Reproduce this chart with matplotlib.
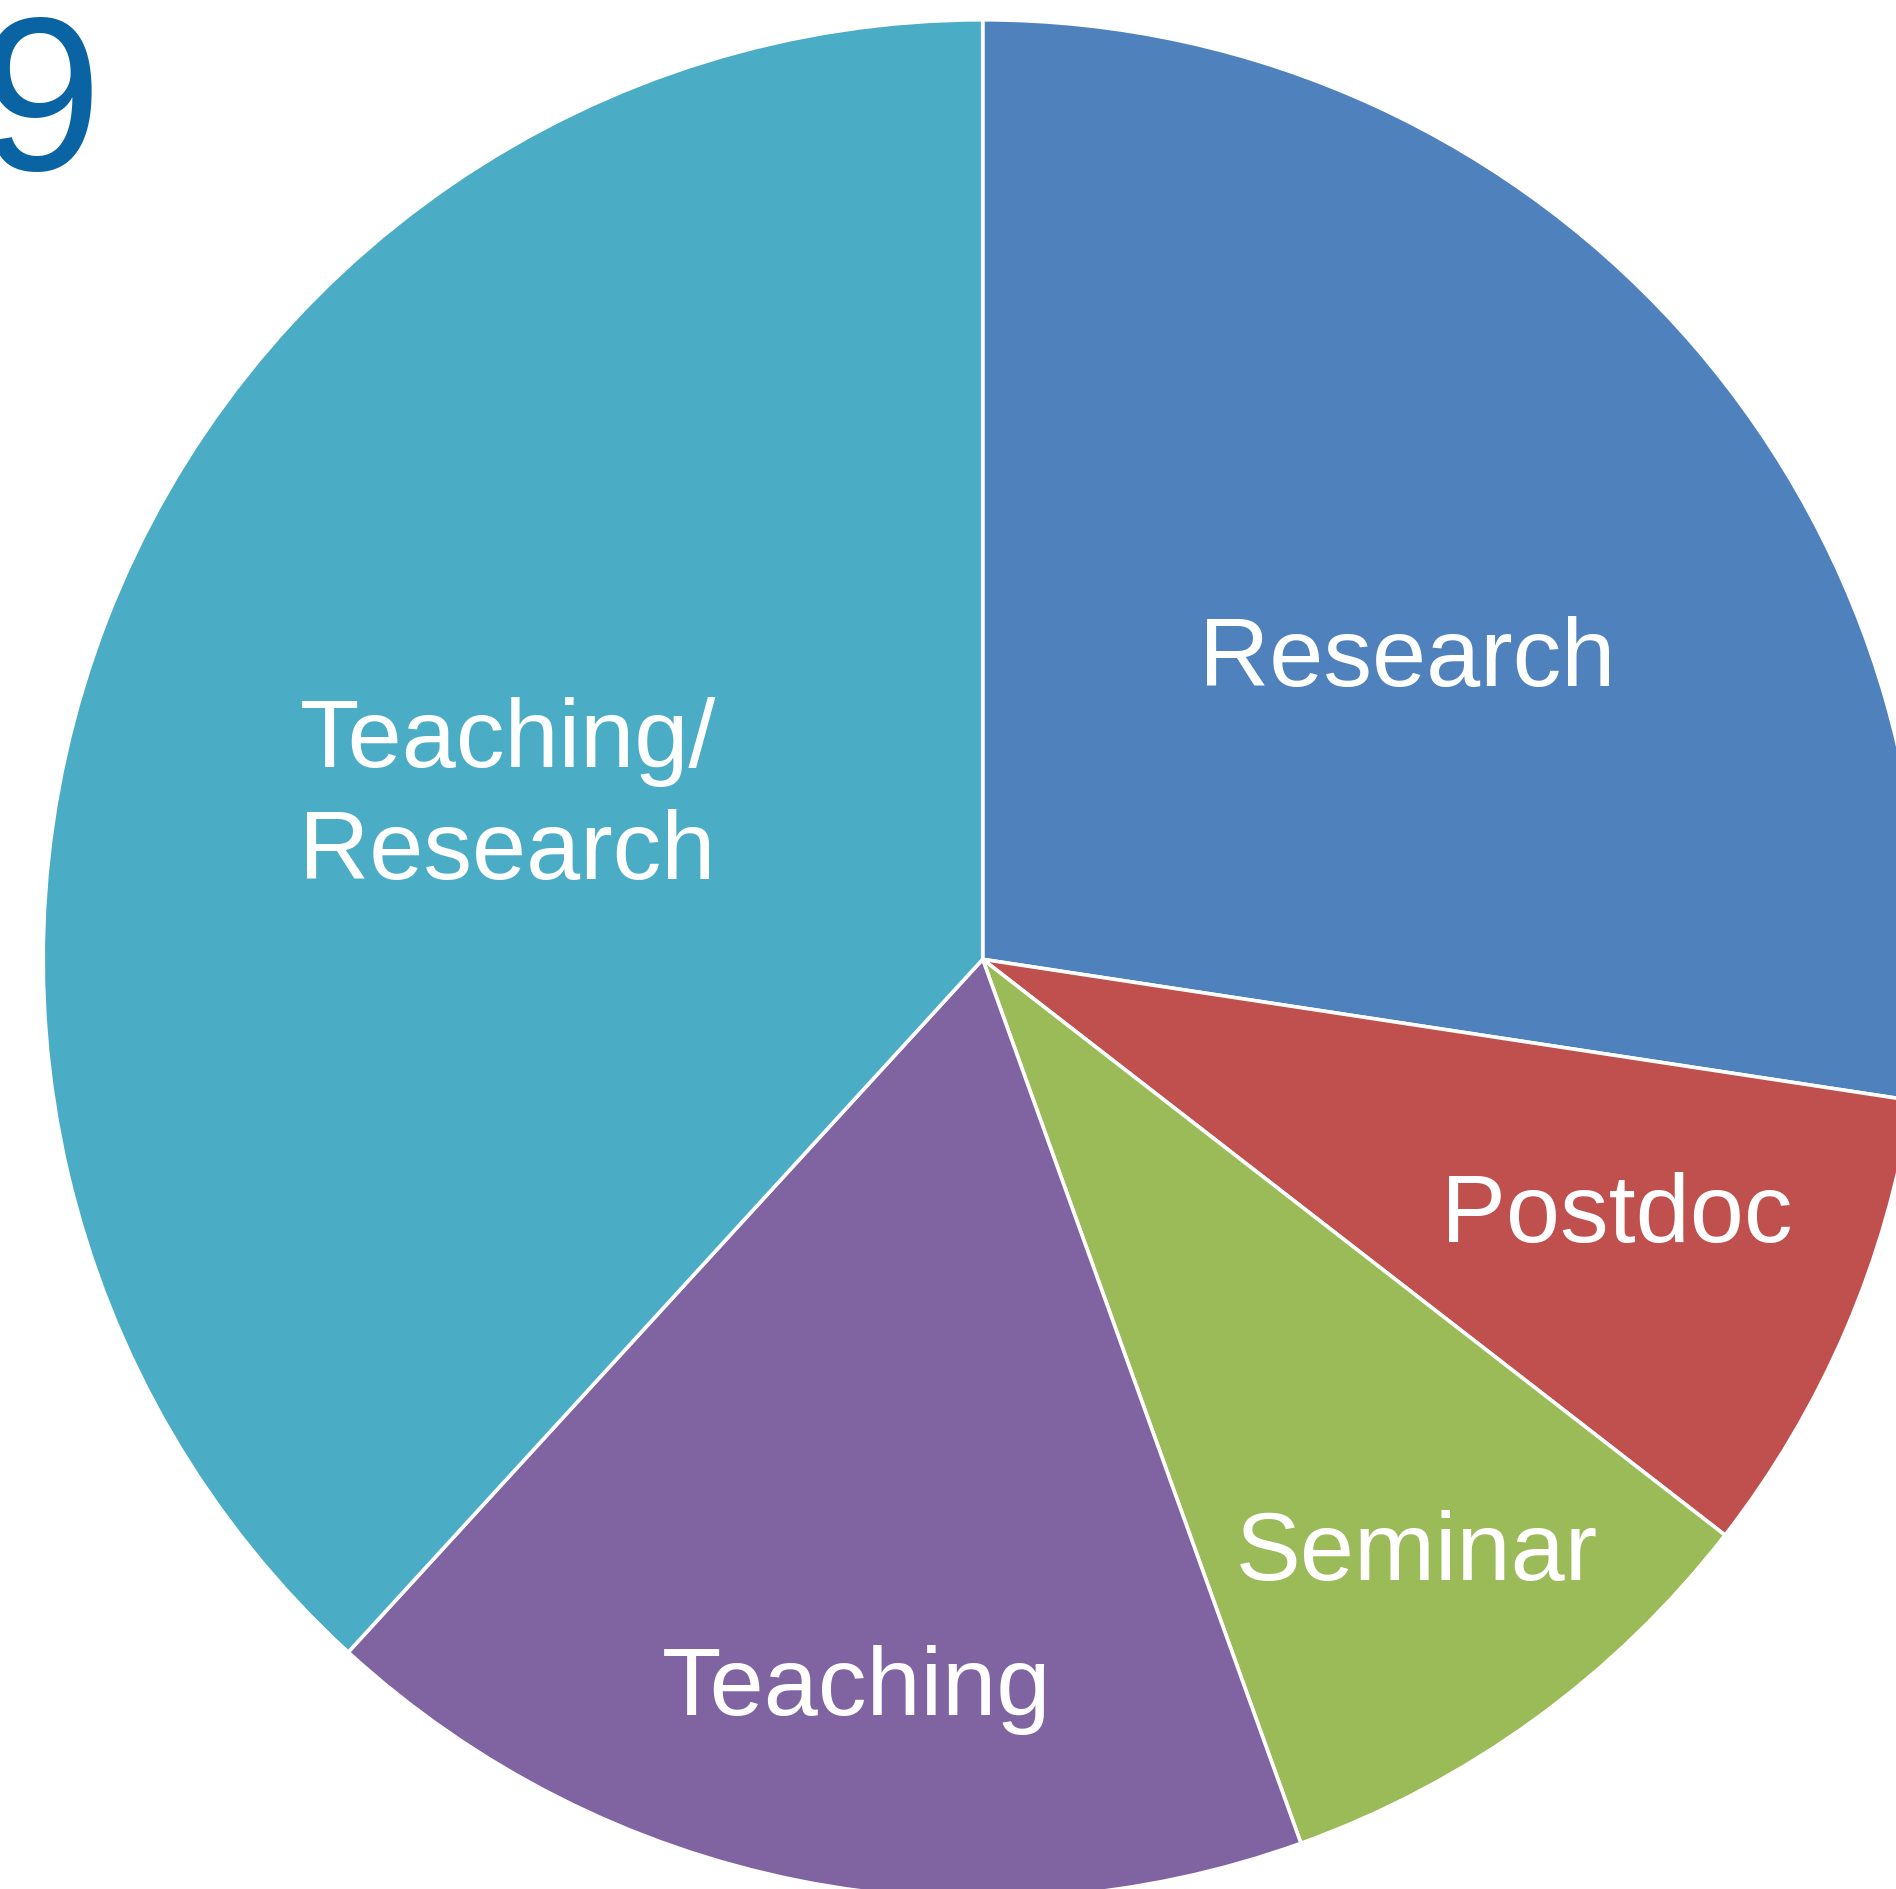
import matplotlib
matplotlib.use("Agg")
import matplotlib.pyplot as plt

plt.rcParams['font.family'] = ['Liberation Sans', 'DejaVu Sans']

categories = ["Research", "Postdoc", "Seminar", "Teaching", "Teaching/Research"]
shares = [27.4, 8.1, 9.0, 17.3, 38.2]
colors = ["#4F81BD", "#C0504D", "#9BBB59", "#8064A2", "#4BACC6"]

W, H = 1896, 1889
fig = plt.figure(figsize=(W / 100, H / 100), dpi=100)
ax = fig.add_axes([0, 0, 1, 1])

cx, cy, R = 982.7, H - 959.3, 939.5
ax.pie(shares, colors=colors, startangle=90, counterclock=False,
       center=(cx, cy), radius=R,
       wedgeprops=dict(edgecolor="white", linewidth=2.6))

ax.set_xlim(0, W)
ax.set_ylim(0, H)
ax.set_aspect('auto')
ax.axis('off')

fs = 70
def lab(x, ybase, s):
    ax.text(x, H - ybase, s, ha='center', va='baseline', fontsize=fs, color='white')

lab(1407, 685.6, "Research")
lab(1617, 1242, "Postdoc")
lab(1417, 1580, "Seminar")
lab(857, 1715, "Teaching")
lab(508, 766.6, "Teaching/")
lab(507, 879.1, "Research")

# cropped title fragment
ax.text(102, H - 170, "9", ha='right', va='baseline', fontsize=158, color="#0A64A4")

fig.savefig("out.png", dpi=100)
